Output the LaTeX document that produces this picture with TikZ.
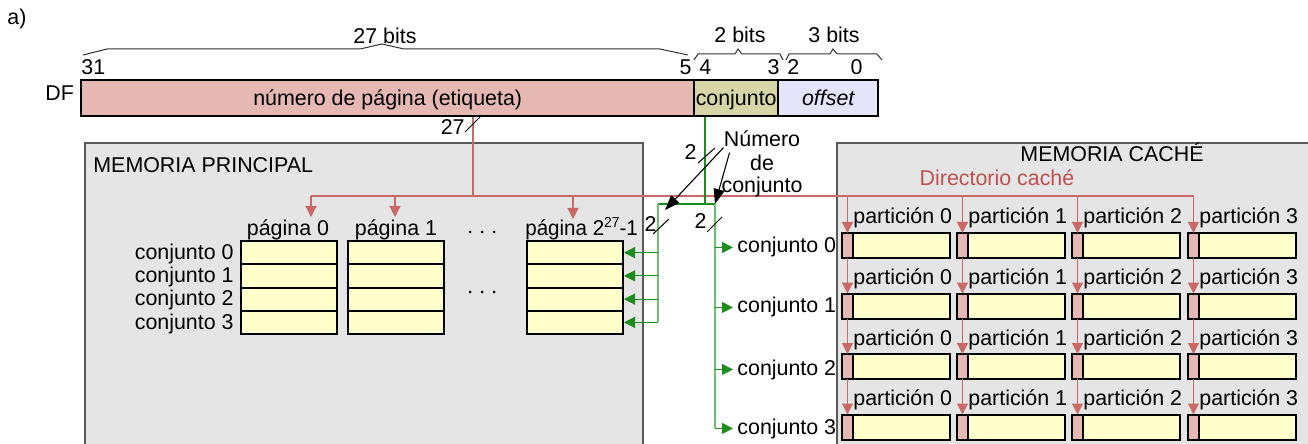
\documentclass[tikz,border=0pt]{standalone}
\usepackage{fontspec}
\setmainfont{Liberation Sans}
\usetikzlibrary{arrows.meta,calc}

\definecolor{tagpink}{HTML}{E6B8B4}
\definecolor{settan}{HTML}{D6D6A6}
\definecolor{offlav}{HTML}{E4E4FA}
\definecolor{cellyel}{HTML}{FFFFCC}
\definecolor{memgray}{HTML}{E5E5E5}
\definecolor{memedge}{HTML}{595959}
\definecolor{dirred}{HTML}{C0504D}
\definecolor{wiregreen}{HTML}{1E8C1E}
\definecolor{branchgreen}{HTML}{6CBF6C}

\tikzset{
  txt/.style={inner sep=0pt, font=\fontsize{10.7}{12.8}\selectfont},
  field/.style={draw=black, line width=1.2pt, inner sep=0pt, minimum height=18pt,
    anchor=north west, font=\fontsize{10.7}{12.8}\selectfont, text height=0.9em, text depth=0.2em},
  memarea/.style={draw=memedge, line width=0.8pt, fill=memgray},
  pagecell/.style={draw=black, line width=1pt, fill=cellyel, inner sep=0pt,
    minimum width=48pt, minimum height=11.625pt, anchor=north west},
  tagcell/.style={draw=black, line width=0.5pt, fill=tagpink, inner sep=0pt,
    minimum width=5pt, minimum height=12pt, anchor=north west},
  datacell/.style={draw=black, line width=0.5pt, fill=cellyel, inner sep=0pt,
    minimum width=48pt, minimum height=12pt, anchor=north west},
  redwire/.style={draw=dirred!85, line width=0.6pt},
  redarrow/.style={redwire, -{Triangle[length=5.5pt,width=5.5pt]}},
  greentrunk/.style={draw=wiregreen, line width=0.6pt},
  greenbranch/.style={draw=branchgreen, line width=0.8pt},
  greenarrow/.style={draw=wiregreen, line width=0.6pt, -{Triangle[length=5.5pt,width=5.5pt]}},
  blackarrow/.style={draw=black, line width=0.55pt, -{Triangle[length=7.5pt,width=5.5pt]}},
  buswidth/.style={draw=black, line width=0.5pt},
  bracket/.style={draw=black!80, line width=0.5pt},
}

\begin{document}
\begin{tikzpicture}[x=0.5pt,y=-0.5pt]
\useasboundingbox (0,0) rectangle (1308,444);

% ---- memory areas ----
\fill[memgray] (85,143) rectangle (643,446);
\draw[memarea] (85,446) -- (85,143) -- (643,143) -- (643,446);
\fill[memgray] (837,143) rectangle (1310,446);
\draw[memarea] (837,446) -- (837,143) -- (1310,143);
\node[txt, anchor=base west] (mp) at (93,173) {MEMORIA PRINCIPAL};
\node[txt, anchor=base] (mc) at (1112,162) {MEMORIA CACHÉ};
\node[txt, anchor=base, text=dirred] (dir) at (997,186) {Directorio caché};

% ---- address fields ----
\node[txt, anchor=base west] (lbla) at (7,25) {a)};
\node[txt, anchor=base west] (df) at (45,101) {DF};
\node[field, fill=tagpink, minimum width=306.5pt] (tag) at (80,79) {número de página (etiqueta)};
\node[field, fill=settan, minimum width=42pt] (set) at (693,79) {conjunto};
\node[field, fill=offlav, minimum width=50pt] (off) at (777,79) {\itshape offset};

% bit numbers
\node[txt, anchor=base west] (b31) at (81,75) {31};
\node[txt, anchor=base east] (b5) at (692,75) {5};
\node[txt, anchor=base west] (b4) at (699,75) {4};
\node[txt, anchor=base east] (b3) at (780,75) {3};
\node[txt, anchor=base west] (b2) at (787,75) {2};
\node[txt, anchor=base east] (b0) at (863,75) {0};

% field-width brackets
\draw[bracket] (83,55) -- (107,49) -- (360,49) -- (382,44) -- (404,49) -- (660,49) -- (688,55);
\draw[bracket] (694,60) -- (698,54) -- (735,54) -- (738,49) -- (742,54) -- (780,54) -- (783,60);
\draw[bracket] (786,60) -- (789,54) -- (830,54) -- (833,49) -- (837,54) -- (877,54) -- (882,60);
\node[txt, anchor=base] (w27) at (385,44) {27 bits};
\node[txt, anchor=base] (w2) at (740,43) {2 bits};
\node[txt, anchor=base] (w3) at (834,43) {3 bits};

% ---- main memory pages ----
\foreach \c/\x in {0/240,1/347,2/526} {
  \foreach \r in {0,1,2,3} {
    \node[pagecell] (p\c-\r) at (\x,{240+23.25*\r}) {};
  }
}
\node[txt, anchor=base] (pg0) at (288,235) {página 0};
\node[txt, anchor=base] (pg1) at (396,235) {página 1};
\node[txt, anchor=base west] (pg2) at (525,235)
  {\scalebox{0.96}[1]{página 2\raisebox{3.6pt}{\fontsize{7.2}{8}\selectfont 27}-1}};
\foreach \r/\yb in {0/259,1/283,2/306,3/329} {
  \node[txt, anchor=base east] (ms\r) at (234,\yb) {conjunto \r};
}
\foreach \yd in {232,292} {
  \foreach \xd in {470,482,494} {
    \fill (\xd,\yd) circle (0.75pt);
  }
}

% ---- cache: 4 sets x 4 partitions ----
\foreach \k/\x in {0/842,1/957,2/1072,3/1188} {
  \foreach \r in {0,1,2,3} {
    \pgfmathsetmacro{\yy}{233+60.5*\r}
    \node[tagcell] (t\r-\k) at (\x,\yy) {};
    \node[datacell] (d\r-\k) at (t\r-\k.north east) {};
    \draw[line width=1pt] (t\r-\k.north west) rectangle (d\r-\k.south east);
    \node[txt, anchor=base west] (pl\r-\k) at (\x+11,\yy-9) {partición \k};
  }
}
\foreach \r/\yb in {0/253,1/313,2/375,3/434} {
  \node[txt, anchor=base west] (cj\r) at (737,\yb) {conjunto \r};
}

% ---- tag bus (red) ----
\coordinate (bus) at (473,196);
\coordinate (a0) at (311,217);
\coordinate (a1) at (395,217);
\coordinate (a2) at (573,219);
\draw[redwire] (tag.south -| bus) -- (bus);
\draw[redwire] (a0 |- bus) -- (t0-3.north |- bus);
\foreach \a in {a0,a1,a2} {
  \draw[redarrow] (\a |- bus) -- (\a);
}
\foreach \k in {0,1,2,3} {
  \draw[redarrow] (t0-\k.north |- bus) -- (t0-\k.north);
  \foreach \r/\p in {1/0,2/1,3/2} {
    \draw[redarrow] (t\p-\k.south) -- (t\r-\k.north);
  }
}
\draw[buswidth] (465,132) -- (481,116);
\node[txt, anchor=base east] (n27) at (465,135) {27};

% ---- set-number bus (green) ----
\coordinate (gj) at (705,204);
\coordinate (gl) at (658,204);
\coordinate (gr) at (715,204);
\draw[greentrunk] (set.south -| gj) -- (gj);
\draw[greentrunk] (gl) -- (gr);
\draw[greenbranch] (gl) -- (gl |- p2-3.east);
\draw[greenbranch] (gr) -- (gr |- cj3.west);
\foreach \r in {0,1,2,3} {
  \draw[greenarrow] (gl |- p2-\r.east) -- (p2-\r.east);
  \draw[greenarrow] (gr |- cj\r.west) -- ([xshift=-2pt]cj\r.west);
}
\draw[buswidth] (698,163) -- (715,148);
\node[txt, anchor=base east] (n2a) at (697,160) {2};
\draw[buswidth] (653,234) -- (669,219);
\node[txt, anchor=base east] (n2b) at (657,232) {2};
\draw[buswidth] (707,232) -- (722,217);
\node[txt, anchor=base east] (n2c) at (707,228) {2};

% ---- "Número de conjunto" callout ----
\node[txt, anchor=base] (num1) at (762,147) {Número};
\node[txt, anchor=base] (num2) at (762,170) {de};
\node[txt, anchor=base] (num3) at (762,192) {conjunto};
\draw[blackarrow] (num1.south west) -- ($(gl)+(7,6)$);
\draw[blackarrow] ($(num1.south west)+(6,5)$) -- (gr);

\end{tikzpicture}
\end{document}
